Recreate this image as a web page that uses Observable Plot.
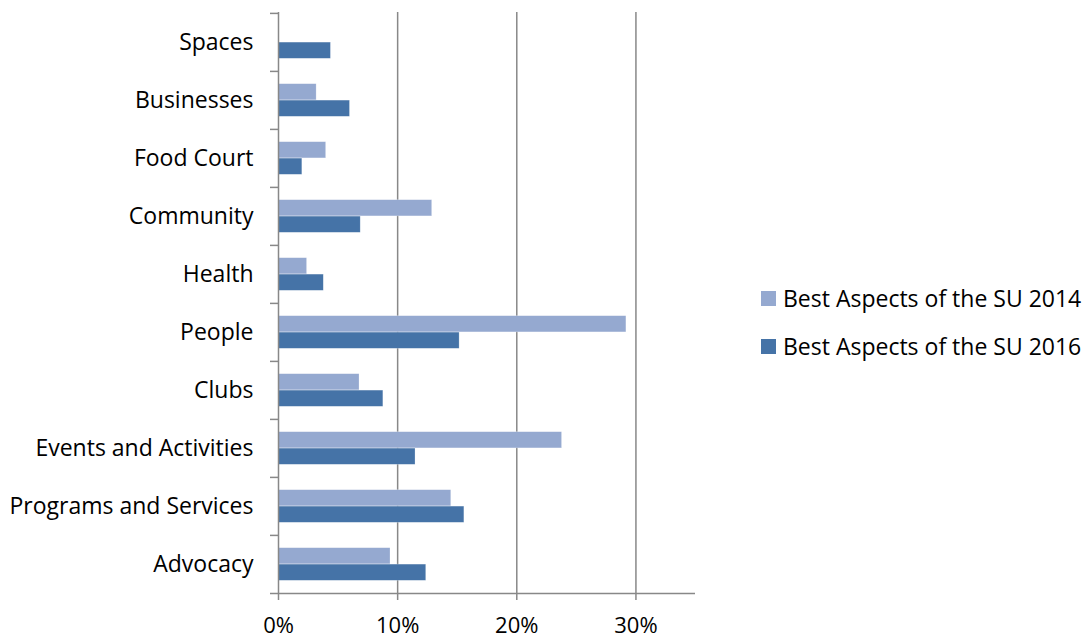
<!DOCTYPE html>
<html>
<head>
<meta charset="utf-8">
<script src="https://cdn.jsdelivr.net/npm/d3@7"></script>
<script src="https://cdn.jsdelivr.net/npm/@observablehq/plot@0.6"></script>
<style>
  html, body { margin: 0; padding: 0; background: #fff; }
  #wrap { position: relative; width: 1089px; height: 641px; font-family: "Open Sans", sans-serif; }
  #wrap svg { overflow: visible; }
  #legend { position: absolute; left: 761px; top: 282px; font-size: 23px; color: #000; }
  .item { display: flex; align-items: center; height: 32px; margin-bottom: 16px; white-space: nowrap; }
  .sw { width: 15px; height: 15px; margin-right: 7px; }
</style>
</head>
<body>
<div id="wrap"><div id="legend"></div></div>
<script>
const categories = ["Spaces", "Businesses", "Food Court", "Community", "Health", "People", "Clubs", "Events and Activities", "Programs and Services", "Advocacy"];
const seriesNames = ["Best Aspects of the SU 2014", "Best Aspects of the SU 2016"];
const values2014 = [0, 0.032, 0.040, 0.129, 0.024, 0.292, 0.068, 0.238, 0.145, 0.094];
const values2016 = [0.044, 0.060, 0.020, 0.069, 0.038, 0.152, 0.088, 0.115, 0.156, 0.124];
const xTicks = [0, 0.1, 0.2, 0.3];
const colors = ["#95A9D0", "#4573A7"];

const W = 1089, H = 641;
const mL = 278, mR = W - 695, mT = 12, mB = H - 594;
const bw = (H - mT - mB) / categories.length;
const barH = bw * 0.282;
const half = bw / 2;

const rows14 = categories.map((c, i) => ({category: c, value: values2014[i]})).filter(d => d.value > 0);
const rows16 = categories.map((c, i) => ({category: c, value: values2016[i]}));

const chart = Plot.plot({
  width: W, height: H,
  marginLeft: mL, marginRight: mR, marginTop: mT, marginBottom: mB,
  style: {fontFamily: "'Open Sans', sans-serif", fontSize: "23px", color: "#000", background: "#fff", overflow: "visible"},
  x: {domain: [0, 0.35], ticks: xTicks, tickFormat: d3.format(".0%"), label: null},
  y: {domain: categories, padding: 0, axis: null, label: null},
  marks: [
    Plot.gridX(xTicks.filter(t => t > 0), {stroke: "#888", strokeOpacity: 1, strokeWidth: 1.5}),
    Plot.barX(rows14, {y: "category", x: "value", fill: colors[0], insetTop: half - barH, insetBottom: half, stroke: "#fff", strokeOpacity: 0.4, strokeWidth: 0.6}),
    Plot.barX(rows16, {y: "category", x: "value", fill: colors[1], insetTop: half, insetBottom: half - barH, stroke: "#fff", strokeOpacity: 0.4, strokeWidth: 0.6}),
    Plot.ruleX([0], {stroke: "#888", strokeWidth: 1.5}),
    Plot.ruleY([categories[categories.length - 1]], {dy: half, stroke: "#888", strokeWidth: 1.5, insetLeft: -8}),
    Plot.axisY({tickSize: 8, tickFormat: () => "", dy: -half, stroke: "#888", strokeWidth: 1.5, label: null}),
    Plot.axisY({tickSize: 0, tickPadding: 25, fontSize: 23, fill: "#000", label: null}),
    Plot.axisX({ticks: xTicks, tickFormat: d3.format(".0%"), tickSize: 6, tickPadding: 17, stroke: "#888", strokeWidth: 1.5, fontSize: 22, fill: "#000", label: null})
  ]
});
document.getElementById("wrap").prepend(chart);

const legend = document.getElementById("legend");
seriesNames.forEach((name, i) => {
  const item = document.createElement("div");
  item.className = "item";
  const sw = document.createElement("div");
  sw.className = "sw";
  sw.style.background = colors[i];
  const t = document.createElement("span");
  t.textContent = name;
  item.appendChild(sw); item.appendChild(t);
  legend.appendChild(item);
});
</script>
</body>
</html>
